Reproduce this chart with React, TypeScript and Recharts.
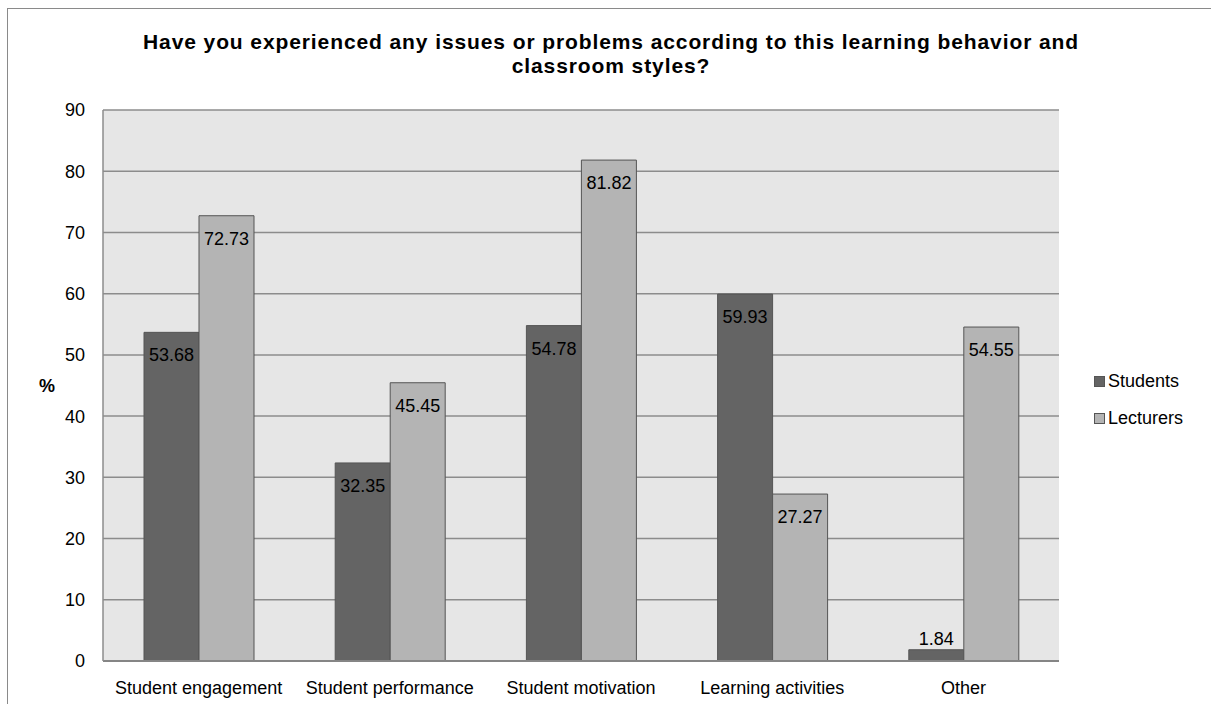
import { BarChart, Bar, XAxis, YAxis, CartesianGrid, LabelList } from 'recharts'

const categories = ['Student engagement', 'Student performance', 'Student motivation', 'Learning activities', 'Other']
const students = [53.68, 32.35, 54.78, 59.93, 1.84]
const lecturers = [72.73, 45.45, 81.82, 27.27, 54.55]
const yTicks = [0, 10, 20, 30, 40, 50, 60, 70, 80, 90]

const data = categories.map((name, i) => ({ name, students: students[i], lecturers: lecturers[i] }))

const font = '"Liberation Sans", Arial, sans-serif'

const BarValue = (props: any) => {
  const { x, y, width, height, value } = props
  const inside = height > 30
  return (
    <text
      x={x + width / 2}
      y={inside ? y + 23 : y - 11}
      textAnchor="middle"
      dominantBaseline="central"
      fontSize={18}
      fill="#000"
      fontFamily={font}
    >
      {value.toFixed(2)}
    </text>
  )
}

const legendItems = [
  { label: 'Students', color: '#646464' },
  { label: 'Lecturers', color: '#b4b4b4' },
]

export default function App() {
  return (
    <div style={{ position: 'fixed', left: 0, top: 0, width: 1211, height: 704, overflow: 'hidden', fontFamily: font, background: '#fff' }}>
      <div
        style={{
          position: 'absolute',
          left: 7,
          top: 8,
          width: 1300,
          height: 800,
          border: '1px solid #8a8a8a',
        }}
      />
      <div
        style={{
          position: 'absolute',
          left: 61,
          top: 30,
          width: 1100,
          textAlign: 'center',
          fontWeight: 'bold',
          fontSize: 21,
          letterSpacing: 0.9,
          lineHeight: '24px',
          color: '#000',
        }}
      >
        Have you experienced any issues or problems according to this learning behavior and
        <br />
        classroom styles?
      </div>
      <div style={{ position: 'absolute', left: 1094, top: 363, fontSize: 18, color: '#000' }}>
        {legendItems.map((item) => (
          <div key={item.label} style={{ display: 'flex', alignItems: 'center', height: 37 }}>
            <span
              style={{
                display: 'inline-block',
                width: 9,
                height: 9,
                background: item.color,
                border: '1px solid #555',
                marginRight: 3,
              }}
            />
            {item.label}
          </div>
        ))}
      </div>
      <div style={{ position: 'absolute', left: 8, top: 8 }}>
        <BarChart
          width={1203}
          height={696}
          data={data}
          margin={{ top: 102, right: 152, left: 0, bottom: 0 }}
          barGap={0}
          barSize={55}
        >
          <CartesianGrid vertical={false} fill="#e6e6e6" stroke="#8c8c8c" strokeWidth={1.5} />
          <XAxis
            dataKey="name"
            height={43}
            tickLine={false}
            tickSize={0}
            tickMargin={20}
            axisLine={{ stroke: '#858585', strokeWidth: 2 }}
            tick={{ fill: '#000', fontSize: 18, fontFamily: font }}
            interval={0}
          />
          <YAxis
            width={95}
            domain={[0, 90]}
            ticks={yTicks}
            tickLine={false}
            tickSize={0}
            tickMargin={18}
            axisLine={{ stroke: '#8c8c8c', strokeWidth: 1.5 }}
            tick={{ fill: '#000', fontSize: 18, fontFamily: font }}
            label={{
              value: '%',
              position: 'insideLeft',
              offset: 31,
              style: { fill: '#000', fontSize: 18, fontWeight: 'bold', fontFamily: font },
            }}
          />
          <Bar dataKey="students" name="Students" fill="#646464" stroke="#555" strokeWidth={1} isAnimationActive={false}>
            <LabelList dataKey="students" content={<BarValue />} />
          </Bar>
          <Bar dataKey="lecturers" name="Lecturers" fill="#b4b4b4" stroke="#555" strokeWidth={1} isAnimationActive={false}>
            <LabelList dataKey="lecturers" content={<BarValue />} />
          </Bar>
        </BarChart>
      </div>
    </div>
  )
}
